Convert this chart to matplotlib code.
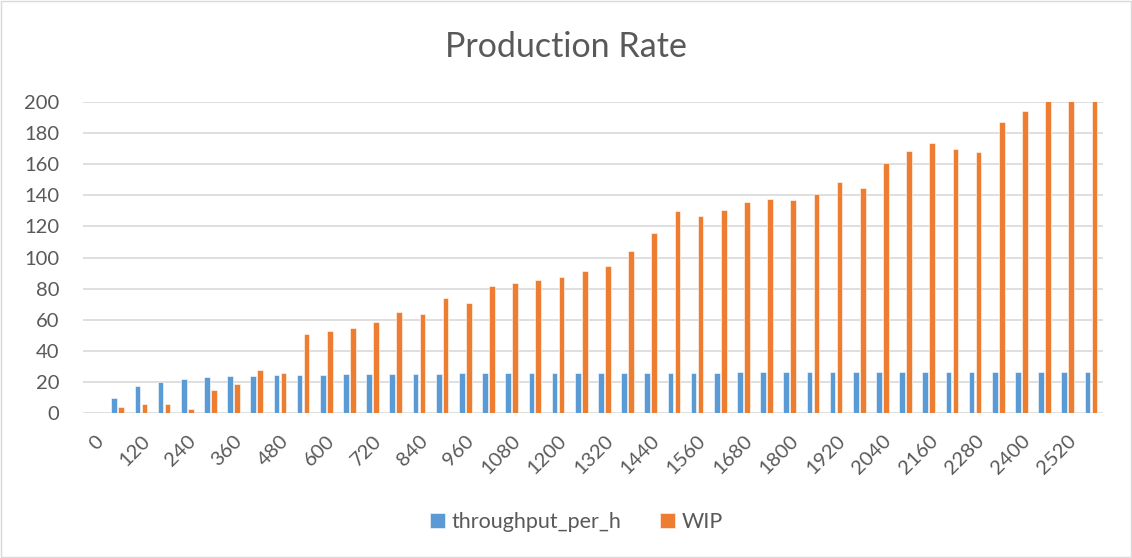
import numpy as np
import matplotlib.pyplot as plt
from matplotlib.patches import Rectangle

plt.rcParams['font.family'] = ['Lato', 'DejaVu Sans']

# minutes since start, one category every 60
minutes = list(range(0, 2640, 60))

throughput_per_h = [0, 9.3, 17.2, 19.8, 21.9, 23.0, 23.7, 24.0, 24.3, 24.3, 24.6,
                    24.8, 25.0, 25.1, 25.3, 25.3, 25.6, 25.5, 25.4, 25.5, 25.6, 25.7,
                    25.8, 25.8, 25.9, 25.9, 26.0, 26.0, 26.1, 26.2, 26.3, 26.3, 26.4,
                    26.4, 26.4, 26.5, 26.5, 26.4, 26.4, 26.4, 26.4, 26.3, 26.3, 26.2]

wip = [0, 3.5, 5.6, 5.6, 2.4, 14.6, 18.7, 27.5, 25.6, 50.6, 52.7,
       54.6, 58.5, 64.8, 63.7, 73.8, 70.6, 81.7, 83.7, 85.6, 87.5, 91.6,
       94.6, 103.9, 115.7, 129.7, 126.7, 130.8, 135.7, 137.9, 137.0, 140.9, 148.8,
       145.0, 160.9, 168.8, 174.0, 169.9, 168.0, 186.9, 194.0, 204.0, 211.0, 218.0]

blue = '#5B9BD5'
orange = '#ED7D31'
grid = '#D9D9D9'
txt = '#595959'

fig = plt.figure(figsize=(11.32, 5.58), dpi=100)
ax = fig.add_axes([0.0733, 0.260, 0.9007, 0.557])

x = np.arange(len(minutes))
w = 0.245
ax.bar(x - 0.15, throughput_per_h, w, color=blue, edgecolor='white', linewidth=0.4,
       label='throughput_per_h', zorder=3)
ax.bar(x + 0.15, wip, w, color=orange, edgecolor='white', linewidth=0.4,
       label='WIP', zorder=3)

ax.set_xlim(-0.5, len(minutes) - 0.5)
ax.set_ylim(0, 200)
ax.set_yticks(range(0, 201, 20))
ax.yaxis.grid(True, color=grid, linewidth=1.2, zorder=0)
ax.set_axisbelow(True)

ax.set_xticks(x[::2])
ax.set_xticklabels([str(m) for m in minutes[::2]], rotation=45, ha='right',
                   va='top', rotation_mode='anchor')
ax.tick_params(axis='both', length=0, labelsize=14.5, colors=txt)
ax.tick_params(axis='x', pad=14)
ax.tick_params(axis='y', pad=17)

for s in ax.spines.values():
    s.set_visible(False)

fig.text(0.5, 0.915, 'Production Rate', ha='center', va='center',
         fontsize=24.5, color=txt)

fig.legend(loc='center', bbox_to_anchor=(0.509, 0.064), ncol=2, frameon=False,
           fontsize=15.5, labelcolor=txt, handlelength=0.7, handleheight=0.7,
           handletextpad=0.3, columnspacing=1.8)

# light frame round the chart area
fig.patches.append(Rectangle((0.001, 0.002), 0.998, 0.996, transform=fig.transFigure,
                             fill=False, edgecolor=grid, linewidth=1))

fig.savefig('out.png', dpi=100, facecolor='white')
